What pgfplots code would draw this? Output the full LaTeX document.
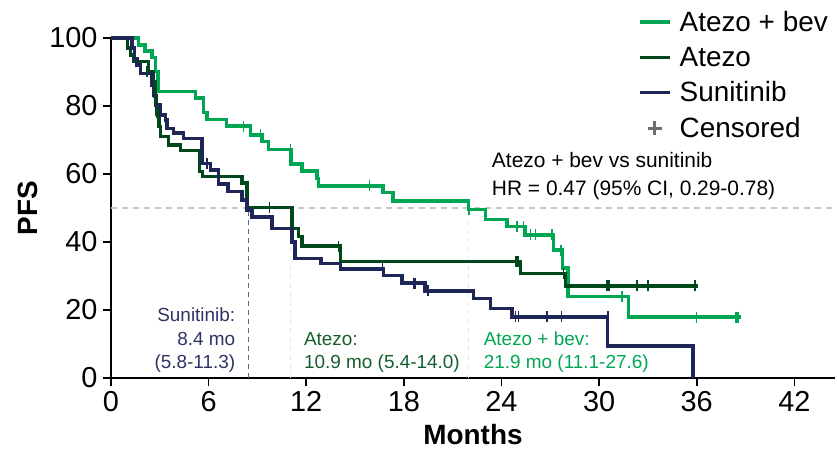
\documentclass[border=0pt]{standalone}
\usepackage{fontspec}
\setmainfont{Liberation Sans}
\usepackage{pgfplots}
\pgfplotsset{compat=1.18}
\definecolor{cAB}{RGB}{0,166,81}
\definecolor{cA}{RGB}{0,72,28}
\definecolor{cS}{RGB}{30,38,88}
\definecolor{tS}{RGB}{45,52,100}
\definecolor{tA}{RGB}{20,95,45}
\definecolor{cC}{RGB}{110,110,110}
\begin{document}
\begin{tikzpicture}
\begin{axis}[
  scale only axis, width=724bp, height=340bp,
  xmin=0, xmax=44.5, ymin=0, ymax=100,
  axis lines=left, axis line style={-, line width=1.6bp, black},
  xtick={0,6,...,42}, ytick={0,20,...,100},
  tick align=outside, major tick length=8bp,
  tick style={line width=1.6bp, black},
  ticklabel style={font=\fontsize{29}{31}\selectfont},
  /pgf/number format/assume math mode=true,
  xticklabel style={yshift=-2bp},
  yticklabel style={xshift=-2bp},
  xlabel={Months}, ylabel={PFS},
  label style={font=\fontsize{28}{30}\selectfont\bfseries, inner sep=0pt},
  xlabel style={at={(axis description cs:0.5,-0.166)}, anchor=center},
  ylabel style={at={(axis description cs:-0.1146,0.5)}, anchor=center, rotate=0},
  clip=false,
  legend style={at={(axis description cs:0.728,1.085)}, anchor=north west, draw=none, fill=none,
    font=\fontsize{28}{30}\selectfont, row sep=10bp, inner sep=0bp,
    /tikz/every odd column/.append style={column sep=6bp}},
  legend cell align=left,
  legend image code/.code={\draw[mark repeat=2,mark phase=2,#1] plot coordinates {(0bp,0bp) (15bp,0bp) (30bp,0bp)};},
]
% reference lines
\addplot[forget plot, color=black!22, dash pattern=on 6bp off 5bp, line width=1.2bp] coordinates {(0,50) (44.5,50)};
\addplot[forget plot, color=tS!75, dash pattern=on 5bp off 4bp, line width=1bp] coordinates {(8.46,0) (8.46,50)};
\addplot[forget plot, color=cyan!25!black!12, dash pattern=on 5bp off 4bp, line width=1bp] coordinates {(11.03,0) (11.03,50)};
\addplot[forget plot, color=cyan!25!black!12, dash pattern=on 5bp off 4bp, line width=1bp] coordinates {(22.0,0) (22.0,50)};

% Atezo + bev
\addplot[cAB, line width=3.4bp, const plot] coordinates {
(0,100) (1.68,97.9) (2.10,96.2) (2.52,94.2) (2.72,90.1) (2.9,84.2) (5.18,82.3) (5.67,78) (5.9,76)
(7.1,74.1) (8.56,71.5) (9.28,69.5) (9.67,67.2) (11.06,62.9) (11.74,60.9) (12.66,58.7) (12.76,56.5)
(16.72,54.5) (17.33,52.1) (21.98,49.6) (23.0,46.7) (24.34,44.5) (25.45,42.1) (27.2,37.6)
(27.75,32.3) (28.1,23.9) (31.8,17.9) (38.7,17.9)};
\addlegendentry{Atezo + bev}
% Atezo
\addplot[cA, line width=3.4bp, const plot] coordinates {
(0,100) (1.0,97) (1.2,95) (1.4,93) (2.3,90) (2.6,87) (2.75,83) (2.8,80) (2.85,77) (2.95,74)
(3.03,71) (3.54,68.5) (4.26,66.9) (5.44,60.7) (5.64,59.2) (8.05,57.3) (8.36,50.2) (11.12,44.0)
(11.53,41.6) (11.74,38.8) (14.09,34.2) (25.16,30.8) (27.92,27.1) (36.1,27.1)};
\addlegendentry{Atezo}
% Sunitinib
\addplot[cS, line width=3.4bp, const plot] coordinates {
(0,100) (1.29,97) (1.45,94) (1.6,92) (1.8,89.6) (2.5,86) (2.6,83) (2.75,80.3) (3.03,77.4)
(3.34,75.9) (3.44,73.4) (3.85,72) (4.46,70.5) (5.6,63.1) (6.1,61.2) (6.6,57) (7.2,54.8)
(8.05,52.4) (8.36,49.4) (8.67,47.4) (9.9,44.0) (11.12,40) (11.3,35.2) (12.9,33.7) (14.1,32.1)
(16.75,30.1) (17.88,27.9) (19.3,25.6) (22.29,23.4) (23.31,20.5) (24.65,18) (30.52,9.4)
(35.77,9.4) (35.77,0)};
\addlegendentry{Sunitinib}
\addlegendimage{legend image code/.code={\draw[cC, line width=3bp] (8bp,0bp) -- (22bp,0bp) (15bp,-7bp) -- (15bp,7bp);}}
\addlegendentry{Censored}

% censor marks
\addplot[forget plot, only marks, mark=|, mark size=5.5bp, mark options={cAB, line width=1.5bp}] coordinates {
(8.13,74.1) (9.18,71.5) (11.02,67.2) (15.88,56.5) (22.0,49.6) (24.95,44.5) (25.36,44.5)
(25.77,42.1) (26.08,42.1) (27.1,42.1) (27.65,37.6) (31.4,23.9) (36.0,17.9) (38.4,17.9) (38.55,17.9)};
\addplot[forget plot, only marks, mark=|, mark size=5.5bp, mark options={cA, line width=1.5bp}] coordinates {
(2.2,90) (2.65,84.7) (2.7,81.8) (2.75,78.8) (9.75,50.2) (13.99,38.8) (24.85,34.2) (24.95,34.2)
(25.05,34.2) (27.8,30.8) (30.5,27.1) (30.6,27.1) (32.33,27.1) (33.0,27.1) (35.9,27.1)};
\addplot[forget plot, only marks, mark=|, mark size=5.5bp, mark options={cS, line width=1.5bp}] coordinates {
(2.6,84) (5.9,63.1) (16.7,32.1) (18.58,27.9) (18.7,27.9) (19.47,25.6) (24.85,18) (25.05,18)
(26.8,18) (27.7,18) (30.55,18)};

% annotations
\node[anchor=base west, font=\fontsize{21}{24}\selectfont] at (axis cs:23.2,61.9) {Atezo + bev vs sunitinib};
\node[anchor=base west, font=\fontsize{21}{24}\selectfont] at (axis cs:23.2,53.8) {HR = 0.47 (95\% CI, 0.29-0.78)};
\node[anchor=base east, font=\fontsize{19}{22}\selectfont, text=tS] at (axis cs:7.85,16.5) {Sunitinib:};
\node[anchor=base east, font=\fontsize{19}{22}\selectfont, text=tS] at (axis cs:7.85,9.7) {8.4 mo};
\node[anchor=base east, font=\fontsize{19}{22}\selectfont, text=tS] at (axis cs:7.85,2.7) {(5.8-11.3)};
\node[anchor=base west, font=\fontsize{19}{22}\selectfont, text=tA] at (axis cs:11.65,9.7) {Atezo:};
\node[anchor=base west, font=\fontsize{19}{22}\selectfont, text=tA] at (axis cs:11.65,2.7) {10.9 mo (5.4-14.0)};
\node[anchor=base west, font=\fontsize{19}{22}\selectfont, text=cAB] at (axis cs:22.7,9.7) {Atezo + bev:};
\node[anchor=base west, font=\fontsize{19}{22}\selectfont, text=cAB] at (axis cs:22.7,2.7) {21.9 mo (11.1-27.6)};

\coordinate (bl) at (rel axis cs:0,0);
\coordinate (tr) at (rel axis cs:1,1);
\end{axis}
\pgfresetboundingbox
\path[use as bounding box] ([shift={(-111bp,-71bp)}]bl) rectangle ([shift={(2bp,38bp)}]tr);
\end{tikzpicture}
\end{document}
